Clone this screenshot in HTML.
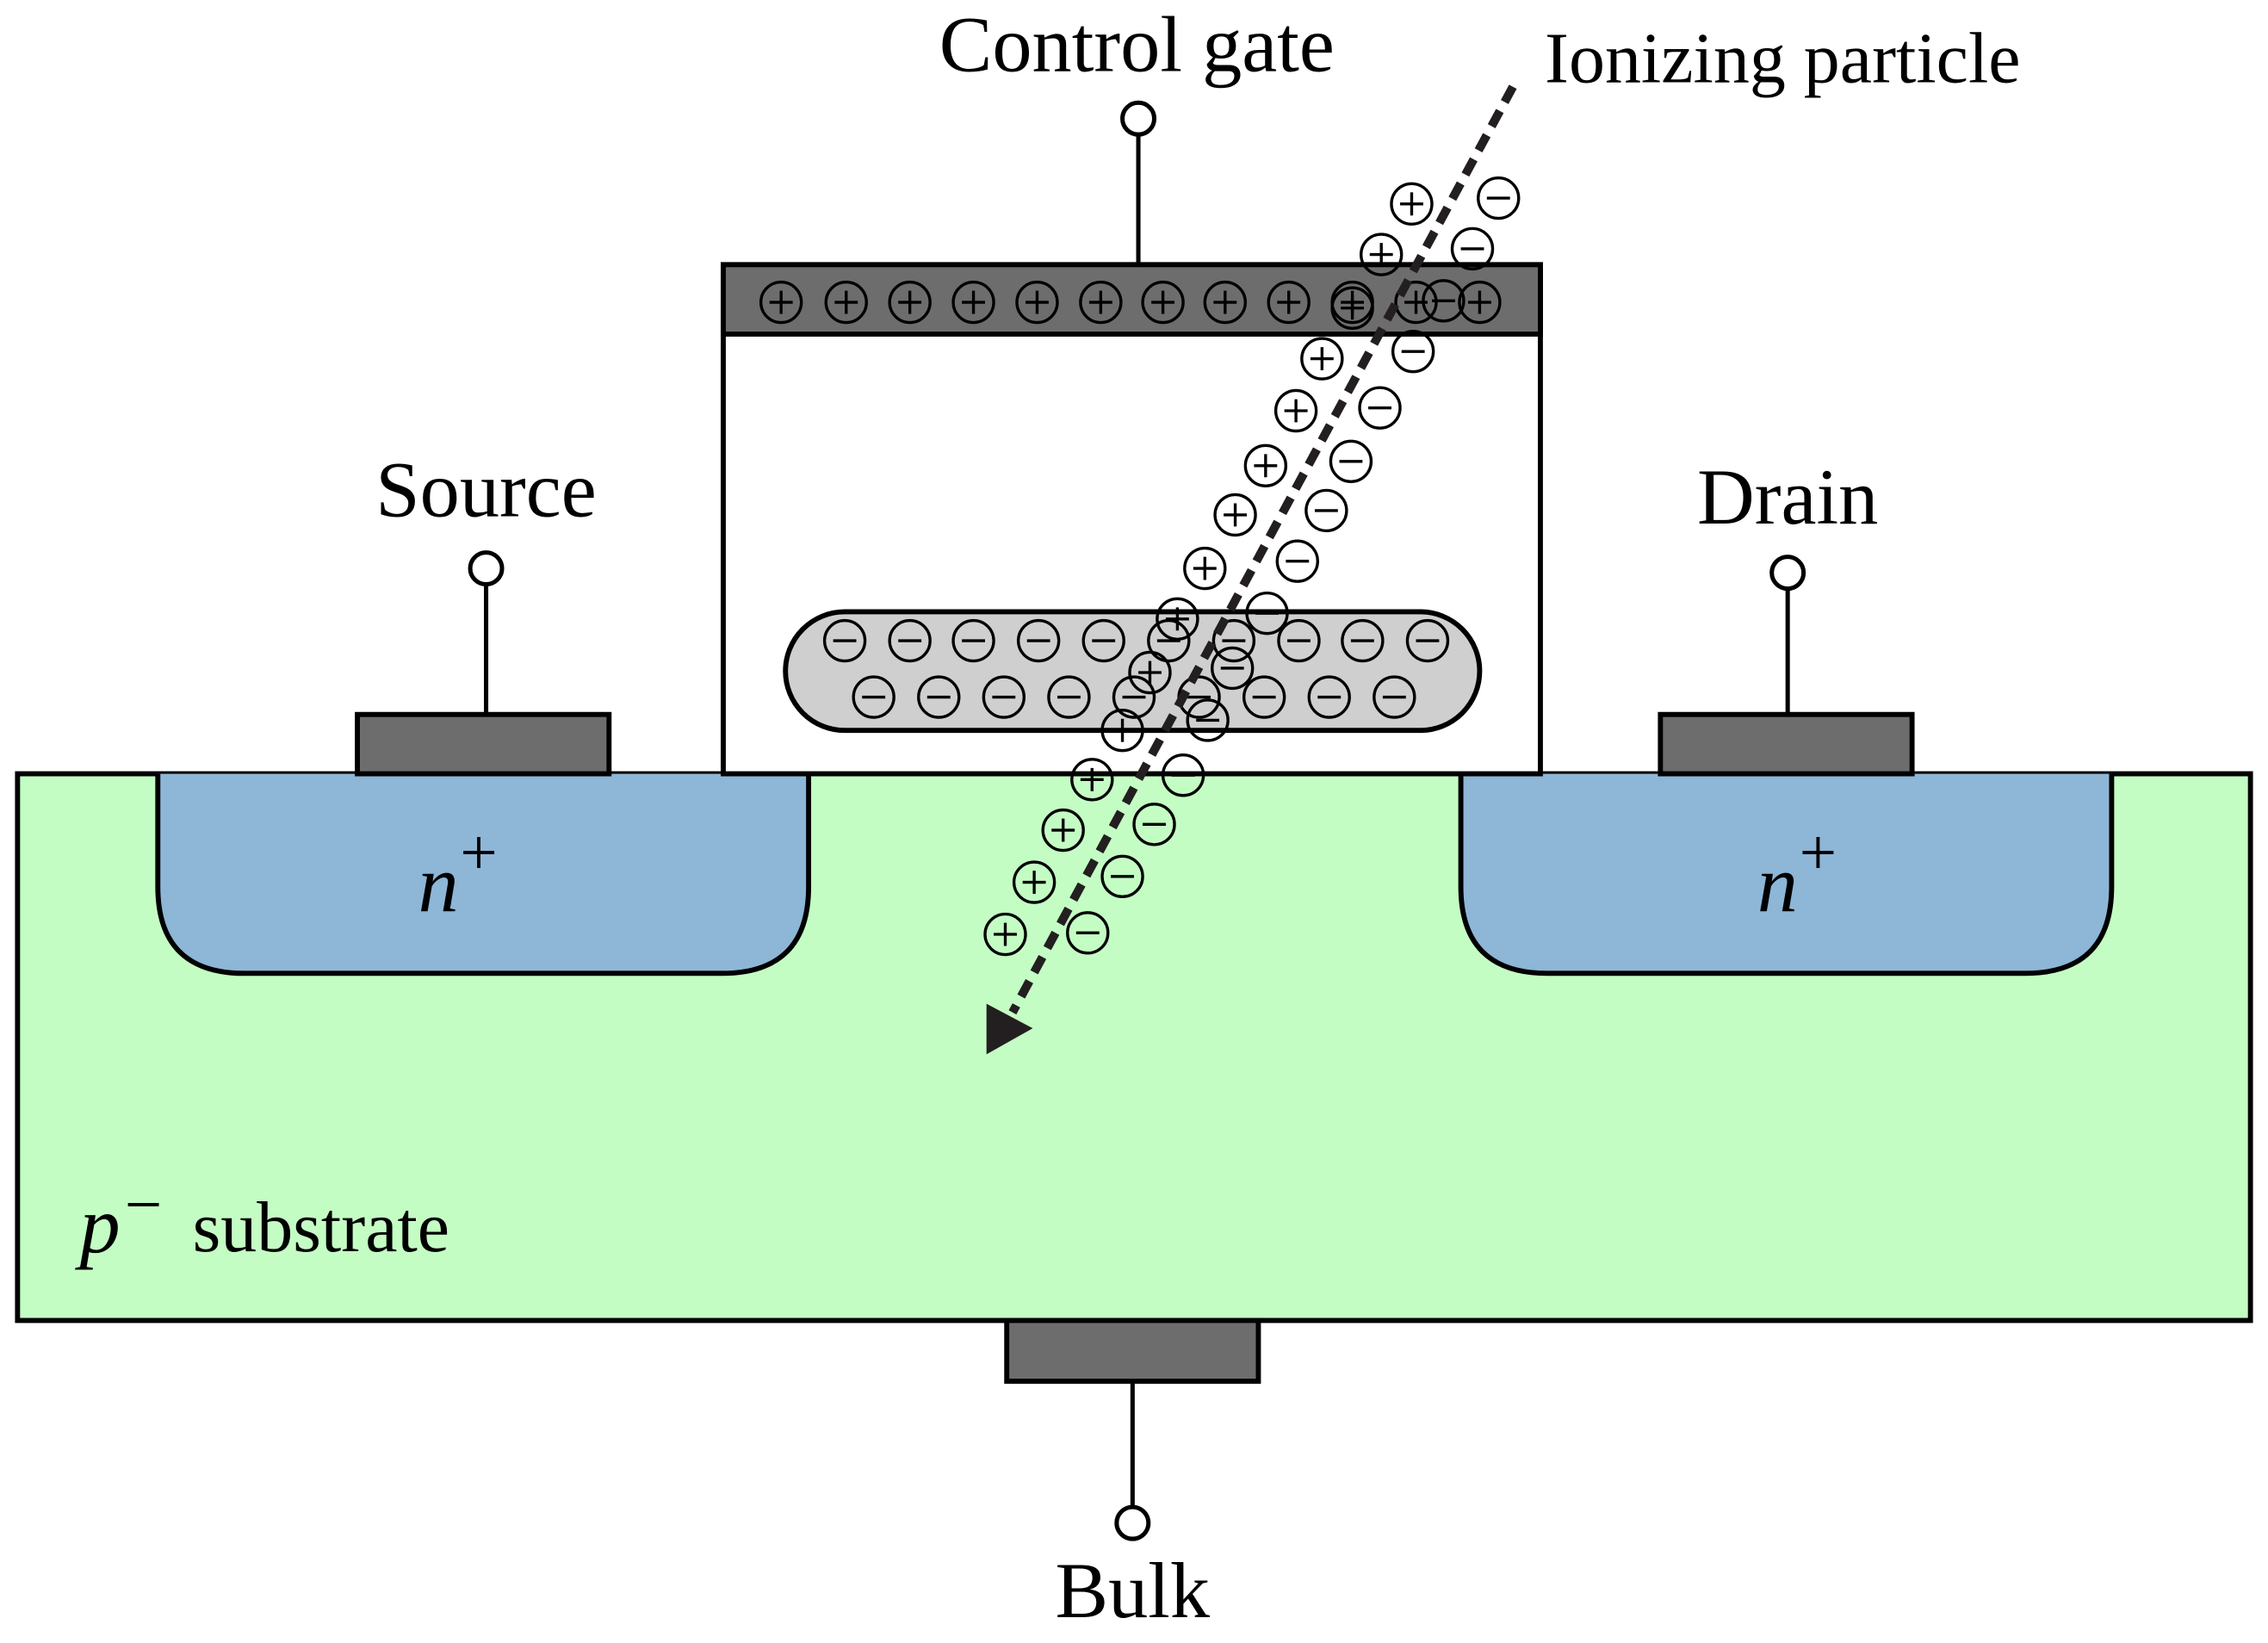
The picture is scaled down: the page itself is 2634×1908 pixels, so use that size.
<!DOCTYPE html>
<html><head><style>html,body{margin:0;padding:0;background:#fff}svg{display:block}</style></head><body>
<svg width="2634" height="1908" viewBox="0 0 1568 1136" xmlns="http://www.w3.org/2000/svg" font-family="Liberation Serif, serif">
<defs>
<g id="p"><circle r="14" fill="none" stroke="#000" stroke-width="2"/><path d="M-8 0H8M0-8V8" stroke="#000" stroke-width="2"/></g>
<g id="m"><circle r="14" fill="none" stroke="#000" stroke-width="2"/><path d="M-8 0H8" stroke="#000" stroke-width="2"/></g>
</defs>
<rect x="12" y="535" width="1544" height="378" fill="#c4fdc4" stroke="#000" stroke-width="3.5"/>
<path d="M109 535V613Q109 673 169 673H499Q559 673 559 613V535" fill="#8db6d7" stroke="#000" stroke-width="3.5"/>
<path d="M1010 535V613Q1010 673 1070 673H1400Q1460 673 1460 613V535" fill="#8db6d7" stroke="#000" stroke-width="3.5"/>
<rect x="247" y="494" width="174" height="41" fill="#6d6d6d" stroke="#000" stroke-width="3.5"/>
<rect x="1148" y="494" width="174" height="41" fill="#6d6d6d" stroke="#000" stroke-width="3.5"/>
<rect x="696" y="913" width="174" height="42" fill="#6d6d6d" stroke="#000" stroke-width="3.5"/>
<g stroke="#000" stroke-width="3" fill="#fff">
<line x1="336" y1="404" x2="336" y2="494"/><circle cx="336" cy="393" r="11"/>
<line x1="1236" y1="407" x2="1236" y2="494"/><circle cx="1236" cy="396" r="11"/>
<line x1="783" y1="955" x2="783" y2="1042"/><circle cx="783" cy="1053" r="11"/>
<line x1="787" y1="93" x2="787" y2="183"/><circle cx="787" cy="82" r="11"/>
</g>
<rect x="500" y="183" width="565" height="352" fill="#fff" stroke="#000" stroke-width="3.5"/>
<rect x="500" y="183" width="565" height="48" fill="#6d6d6d" stroke="#000" stroke-width="3.5"/>
<rect x="543" y="423" width="480" height="82" rx="41" fill="#cfcfcf" stroke="#000" stroke-width="3.5"/>
<g>
<use href="#p" x="540" y="209"/><use href="#p" x="585" y="209"/><use href="#p" x="629" y="209"/><use href="#p" x="673" y="209"/><use href="#p" x="717" y="209"/><use href="#p" x="761" y="209"/><use href="#p" x="804" y="209"/><use href="#p" x="847" y="209"/><use href="#p" x="891" y="209"/><use href="#p" x="935" y="209"/><use href="#p" x="979" y="209"/><use href="#p" x="1023" y="209"/>
<use href="#m" x="584" y="443"/><use href="#m" x="629" y="443"/><use href="#m" x="673" y="443"/><use href="#m" x="718" y="443"/><use href="#m" x="763" y="443"/><use href="#m" x="808" y="443"/><use href="#m" x="853" y="443"/><use href="#m" x="898" y="443"/><use href="#m" x="942" y="443"/><use href="#m" x="987" y="443"/>
<use href="#m" x="604" y="482"/><use href="#m" x="649" y="482"/><use href="#m" x="694" y="482"/><use href="#m" x="739" y="482"/><use href="#m" x="784" y="482"/><use href="#m" x="829" y="482"/><use href="#m" x="874" y="482"/><use href="#m" x="919" y="482"/><use href="#m" x="964" y="482"/>
</g>
<g>
<use href="#p" x="976" y="141"/><use href="#p" x="955" y="176"/><use href="#p" x="935" y="213"/><use href="#p" x="914" y="248"/><use href="#p" x="896" y="284"/><use href="#p" x="875" y="322"/><use href="#p" x="854" y="356"/><use href="#p" x="833" y="393"/><use href="#p" x="814" y="428"/><use href="#p" x="795" y="465"/><use href="#p" x="776" y="505"/><use href="#p" x="755" y="539"/><use href="#p" x="735" y="574"/><use href="#p" x="715" y="610"/><use href="#p" x="695" y="646"/>
<use href="#m" x="1036" y="137"/><use href="#m" x="1018" y="172"/><use href="#m" x="998" y="208"/><use href="#m" x="977" y="243"/><use href="#m" x="954" y="282"/><use href="#m" x="934" y="319"/><use href="#m" x="917" y="353"/><use href="#m" x="897" y="388"/><use href="#m" x="876" y="424"/><use href="#m" x="852" y="462"/><use href="#m" x="835" y="498"/><use href="#m" x="818" y="536"/><use href="#m" x="798" y="570"/><use href="#m" x="776" y="606"/><use href="#m" x="752" y="645"/>
</g>
<line x1="1046" y1="60" x2="700" y2="700" stroke="#231f20" stroke-width="6" stroke-dasharray="12,7"/>
<polygon points="682,729 682,694 714,711" fill="#231f20"/>
<g font-size="55" fill="#000">
<text x="786" y="49" text-anchor="middle">Control gate</text>
<text x="1068" y="57" font-size="50">Ionizing particle</text>
<text x="336" y="357" text-anchor="middle">Source</text>
<text x="1236" y="362" text-anchor="middle">Drain</text>
<text x="783" y="1118" text-anchor="middle">Bulk</text>
<text x="289" y="630" font-size="56" font-style="italic">n</text><text x="318" y="605" font-size="46">+</text>
<text x="1215" y="630" font-size="56" font-style="italic">n</text><text x="1244" y="605" font-size="46">+</text>
<text x="55" y="866" font-size="56" font-style="italic">p</text><text x="86" y="848" font-size="46">−</text>
<text x="133" y="865" font-size="50">substrate</text>
</g>
</svg>
</body></html>
